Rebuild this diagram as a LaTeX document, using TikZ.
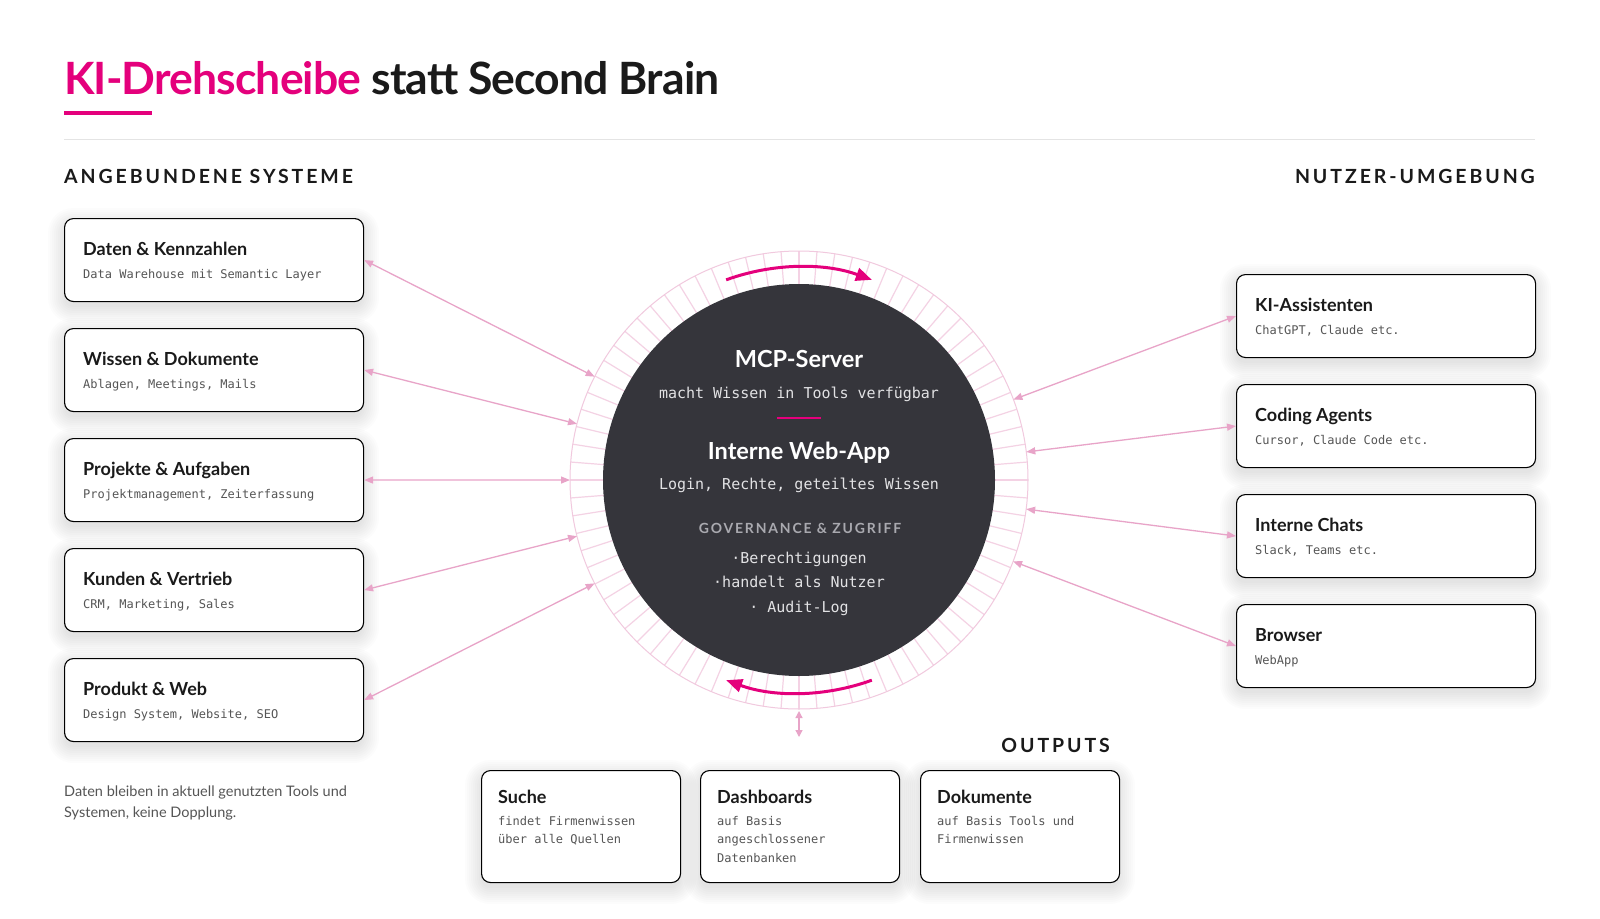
\documentclass[tikz,border=0pt]{standalone}
\usepackage{fontspec}
\setmainfont{Lato}
\newfontfamily\monof{DejaVu Sans Mono}
\newfontfamily\titlef[LetterSpace=-2]{Lato}
\newfontfamily\capsf[LetterSpace=15]{Lato}
\newfontfamily\govf[LetterSpace=13]{Lato}
\usetikzlibrary{calc,arrows.meta}
\definecolor{mag}{HTML}{E4007C}
\definecolor{darkc}{HTML}{35353B}
\definecolor{pinkarrow}{HTML}{E8A4C8}
\definecolor{pinkring}{HTML}{F4D2E4}
\definecolor{rulegray}{HTML}{E4E4E4}
\definecolor{subgray}{HTML}{555555}
\definecolor{inktext}{HTML}{1A1A1A}
\definecolor{govgray}{HTML}{A9A9AF}
\definecolor{lighttext}{HTML}{E2E2E4}
\tikzset{
  box/.style={draw=black, line width=1.1pt, fill=white, rounded corners=9pt, inner sep=0pt},
  btitle/.style={anchor=base west, inner sep=0pt, font=\bfseries\fontsize{18}{22}\selectfont, text=inktext},
  bsub/.style={anchor=base west, inner sep=0pt, font=\monof\fontsize{12}{18.5}\selectfont, text=subgray},
  conn/.style={draw=pinkarrow, line width=1.3pt, {Triangle[length=9pt,width=7pt]}-{Triangle[length=9pt,width=7pt]}},
  smallconn/.style={draw=pinkarrow, line width=1.3pt, {Triangle[length=7pt,width=7pt]}-{Triangle[length=7pt,width=7pt]}},
  spin/.style={draw=mag, line width=3pt, -{Triangle[length=16pt,width=13pt]}},
  heading/.style={inner sep=0pt, font=\capsf\bfseries\fontsize{19.5}{22}\selectfont, text=inktext},
  ctitle/.style={anchor=base, inner sep=0pt, font=\bfseries\fontsize{23.5}{26}\selectfont, text=white},
  cmono/.style={anchor=base, inner sep=0pt, font=\monof\fontsize{15}{18}\selectfont, text=lighttext},
}
\newcommand\softshadow[4]{%
  \foreach \k in {0,2,...,16} {%
    \pgfmathsetmacro\rr{9+\k}%
    \fill[black, opacity=0.011, rounded corners=\rr pt] (#1-\k,#2-\k+6) rectangle (#1+#3+\k,#2+#4+\k+6);
  }%
}
\newcommand\mkbox[5]{%
  \softshadow{#2}{#3}{299}{83}
  \node[box, anchor=north west, minimum width=299pt, minimum height=83pt] (#1) at (#2,#3) {};
  \node[btitle] (#1-t) at (#2+19,#3+37) {#4};
  \node[bsub] (#1-s) at (#2+19,#3+60) {#5};
}
\newcommand\mkout[4]{%
  \softshadow{#2}{770}{199}{112}
  \node[box, anchor=north west, minimum width=199pt, minimum height=112pt] (#1) at (#2,770) {};
  \node[btitle] (#1-t) at (#2+17,803) {#3};
  \node[bsub, anchor=north west, align=left] (#1-s) at (#2+17,812) {\strut #4};
}
\begin{document}
\begin{tikzpicture}[x=1pt,y=-1pt]
\useasboundingbox (0,0) rectangle (1600,918);
\fill[white] (0,0) rectangle (1600,918);

% title
\node[anchor=base west, inner sep=0pt, font=\titlef\bfseries\fontsize{44.5}{50}\selectfont, text=inktext] (title) at (64,94) {\textcolor{mag}{KI-Drehscheibe} statt Second Brain};
\draw[mag, line width=3.5pt] (64,113) -- (152,113);
\draw[rulegray, line width=1pt] (64,139) -- (1535,139);

% headings
\node[heading, anchor=base west] (hl) at (64,183) {ANGEBUNDENE SYSTEME};
\node[heading, anchor=base east] (hr) at (1535,183) {NUTZER-UMGEBUNG};
\node[heading, anchor=base east] (ho) at (1110,752) {OUTPUTS};

% left boxes
\mkbox{l1}{64}{218}{Daten \& Kennzahlen}{Data Warehouse mit Semantic Layer}
\mkbox{l2}{64}{328}{Wissen \& Dokumente}{Ablagen, Meetings, Mails}
\mkbox{l3}{64}{438}{Projekte \& Aufgaben}{Projektmanagement, Zeiterfassung}
\mkbox{l4}{64}{548}{Kunden \& Vertrieb}{CRM, Marketing, Sales}
\mkbox{l5}{64}{658}{Produkt \& Web}{Design System, Website, SEO}

% right boxes
\mkbox{r1}{1236}{274}{KI-Assistenten}{ChatGPT, Claude etc.}
\mkbox{r2}{1236}{384}{Coding Agents}{Cursor, Claude Code etc.}
\mkbox{r3}{1236}{494}{Interne Chats}{Slack, Teams etc.}
\mkbox{r4}{1236}{604}{Browser}{WebApp}

% output boxes
\mkout{o1}{481}{Suche}{findet Firmenwissen\\über alle Quellen}
\mkout{o2}{700}{Dashboards}{auf Basis\\angeschlossener\\Datenbanken}
\mkout{o3}{920}{Dokumente}{auf Basis Tools und\\Firmenwissen}

% footer note
\node[anchor=base west, inner sep=0pt, font=\fontsize{14.5}{21}\selectfont, text=subgray] (note) at (64,796) {Daten bleiben in aktuell genutzten Tools und};
\node[anchor=base west, inner sep=0pt, font=\fontsize{14.5}{21}\selectfont, text=subgray] (note2) at (64,817) {Systemen, keine Dopplung.};

% hub ring
\coordinate (cc) at (799,480);
\foreach \a in {0,4.5,...,359} \draw[pinkring, line width=1.2pt] (cc) ++(\a:190pt) -- ++(\a:39pt);
\draw[pinkring!80!pinkarrow, line width=1pt] (cc) circle[radius=229pt];
\node[circle, fill=darkc, minimum size=392pt, inner sep=0pt] (c) at (cc) {};

% spin arrows
\draw[spin] (cc) ++(110:213pt) arc[start angle=110, end angle=70, radius=213pt];
\draw[spin] (cc) ++(-70:213pt) arc[start angle=-70, end angle=-110, radius=213pt];

% hub text
\node[ctitle] (t1) at (799,367) {MCP-Server};
\node[cmono] (t2) at (799,398) {macht Wissen in Tools verfügbar};
\draw[mag, line width=1.5pt] (777,418) -- (821,418);
\node[ctitle] (t3) at (799,459) {Interne Web-App};
\node[cmono] (t4) at (799,489) {Login, Rechte, geteiltes Wissen};
\node[anchor=base, inner sep=0pt, font=\govf\bfseries\fontsize{14}{16}\selectfont, text=govgray] (t5) at (800,533) {GOVERNANCE \& ZUGRIFF};
\node[cmono] (t6) at (799,563) {·Berechtigungen};
\node[cmono] (t7) at (799,587) {·handelt als Nutzer};
\node[cmono] (t8) at (799,612) {· Audit-Log};

% connectors
\foreach \n in {l1,l2,l3,l4,l5} \draw[conn] (\n.east) -- ($(cc)!229pt!(\n.east)$);
\foreach \n in {r1,r2,r3,r4} \draw[conn] (\n.west) -- ($(cc)!229pt!(\n.west)$);
\coordinate (rb) at (799,711);
\coordinate (ob) at (799,737);
\draw[smallconn] (rb) -- (ob);
\end{tikzpicture}
\end{document}
